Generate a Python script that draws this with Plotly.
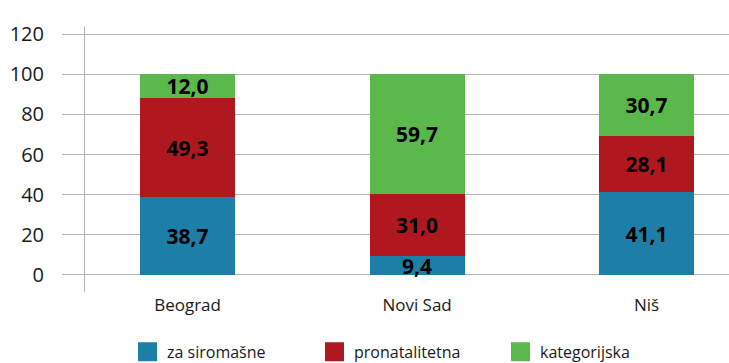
import plotly.graph_objects as go

# Data
cities = ["Beograd", "Novi Sad", "Niš"]
series_names = ["za siromašne", "pronatalitetna", "kategorijska"]
za_siromasne = [38.7, 9.4, 41.1]
pronatalitetna = [49.3, 31.0, 28.1]
kategorijska = [12.0, 59.7, 30.7]
y_ticks = [0, 20, 40, 60, 80, 100, 120]

colors = ["#1d7fa8", "#b01820", "#5bb84a"]
series_values = [za_siromasne, pronatalitetna, kategorijska]

W, H = 729, 363
FONT = "Open Sans"
TEXT_COLOR = "#1a1a1a"

# plot area in pixels
PL, PR = 62, 729
PT, PB = 29.5, 280.7


def px_x(px):
    return (px - PL) / (PR - PL)


def px_y(py):
    return (PB - py) / (PB - PT)


def fmt(v):
    return f"{v:.1f}".replace(".", ",")


fig = go.Figure()
for name, vals, col in zip(series_names, series_values, colors):
    fig.add_trace(go.Bar(
        x=list(range(len(cities))),
        y=vals,
        name=name,
        marker=dict(color=col, line=dict(width=0)),
        text=[fmt(v) for v in vals],
        textposition="inside",
        insidetextanchor="middle",
        constraintext="none",
        textfont=dict(family=FONT, size=21, color="#000000", weight="bold"),
        hoverinfo="skip",
        showlegend=False,
    ))

fig.update_layout(
    barmode="stack",
    bargap=0.586,
    width=W,
    height=H,
    margin=dict(l=PL, r=W - PR, t=PT, b=H - PB, pad=0),
    paper_bgcolor="white",
    plot_bgcolor="white",
    font=dict(family=FONT, color=TEXT_COLOR),
    xaxis=dict(
        tickmode="array",
        tickvals=list(range(len(cities))),
        ticktext=cities,
        range=[-0.547, 2.359],
        showgrid=False,
        zeroline=False,
        showline=False,
        ticks="",
        ticklabelstandoff=12,
        tickfont=dict(family=FONT, size=17, color=TEXT_COLOR),
    ),
    yaxis=dict(
        range=[-3, 122],
        tickmode="array",
        tickvals=y_ticks,
        showgrid=True,
        gridcolor="#b5b5b5",
        gridwidth=1,
        zeroline=False,
        showline=False,
        ticks="",
        ticklabelstandoff=17,
        tickfont=dict(family=FONT, size=20, color=TEXT_COLOR),
    ),
)

# vertical axis line
fig.add_shape(type="line", xref="paper", yref="paper",
              x0=px_x(84.5), x1=px_x(84.5), y0=px_y(292), y1=px_y(26),
              line=dict(color="#b5b5b5", width=1))

# legend drawn as squares with labels
sq_left = [138, 325, 511]
for name, col, x0 in zip(series_names, colors, sq_left):
    fig.add_shape(type="rect", xref="paper", yref="paper",
                  x0=px_x(x0), x1=px_x(x0 + 19), y0=px_y(361), y1=px_y(342),
                  fillcolor=col, line=dict(width=0))
    fig.add_annotation(xref="paper", yref="paper",
                       x=px_x(x0 + 27), y=px_y(352), text=name,
                       showarrow=False, xanchor="left", yanchor="middle",
                       font=dict(family=FONT, size=16, color=TEXT_COLOR))

fig.write_html("out.html")
